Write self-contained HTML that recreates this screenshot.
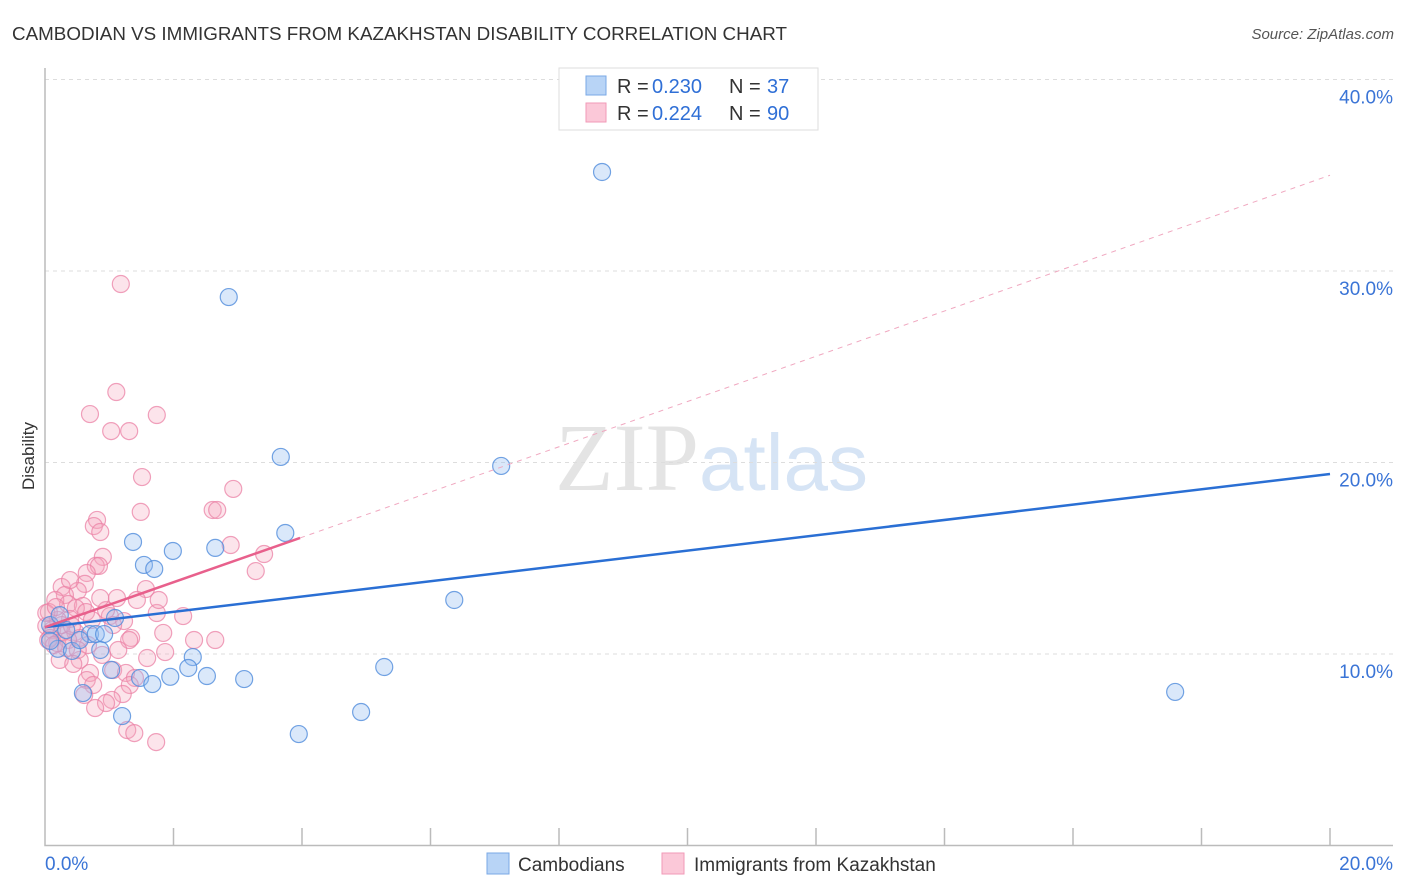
<!DOCTYPE html>
<html><head><meta charset="utf-8"><style>
body{margin:0;background:#fff;font-family:"Liberation Sans",sans-serif;}
svg{display:block}
</style></head><body>
<svg id="chart" width="1406" height="892" xmlns="http://www.w3.org/2000/svg">
<text x="12" y="40" font-size="18" fill="#333" textLength="775" lengthAdjust="spacingAndGlyphs">CAMBODIAN VS IMMIGRANTS FROM KAZAKHSTAN DISABILITY CORRELATION CHART</text>
<text x="1394" y="39" font-size="15" fill="#555" text-anchor="end" font-style="italic">Source: ZipAtlas.com</text>
<text x="555" y="490" font-size="96" font-family="Liberation Serif,serif" fill="#e4e4e4">ZIP<tspan fill="#d6e4f5" font-family="Liberation Sans,sans-serif" font-size="80">atlas</tspan></text>
<g id="grid"></g>
<g id="axes"></g>
<g id="marks"></g>
<text transform="translate(34,456) rotate(-90)" font-size="17" fill="#333" text-anchor="middle">Disability</text>
<g>
<rect x="559" y="68" width="259" height="62" fill="#fff" stroke="#ddd"/>
<rect x="586" y="76" width="20" height="19" fill="#b8d4f6" stroke="#7aa8e6"/>
<text x="617" y="93" font-size="20" fill="#333">R =</text>
<text x="652" y="93" font-size="20" fill="#2f6fd6">0.230</text>
<text x="729" y="93" font-size="20" fill="#333">N =</text>
<text x="767" y="93" font-size="20" fill="#2f6fd6">37</text>
<rect x="586" y="103" width="20" height="19" fill="#fbc8d8" stroke="#f19ab7"/>
<text x="617" y="120" font-size="20" fill="#333">R =</text>
<text x="652" y="120" font-size="20" fill="#2f6fd6">0.224</text>
<text x="729" y="120" font-size="20" fill="#333">N =</text>
<text x="767" y="120" font-size="20" fill="#2f6fd6">90</text>
</g>
<g>
<rect x="487" y="853" width="22" height="21" fill="#b8d4f6" stroke="#7aa8e6"/>
<text x="518" y="871" font-size="19" fill="#333">Cambodians</text>
<rect x="662" y="853" width="22" height="21" fill="#fbc8d8" stroke="#f19ab7"/>
<text x="694" y="871" font-size="19" fill="#333">Immigrants from Kazakhstan</text>
</g>
</svg>
<script>
const yTicks=[10,20,30,40];
const yTickLabels=["10.0%","20.0%","30.0%","40.0%"];
const blueX=[8.67,2.86,3.67,7.10,3.74,1.37,1.99,2.65,1.54,1.70,6.37,1.09,0.70,0.79,0.92,0.33,0.08,0.20,0.42,0.86,2.30,2.23,1.03,1.95,1.48,1.67,2.52,3.10,5.28,0.59,1.20,4.92,3.95,17.59,0.08,0.54,0.23];
const blueY=[35.17,28.64,20.29,19.82,16.32,15.85,15.38,15.54,14.65,14.44,12.82,11.88,11.04,11.04,11.04,11.25,11.51,10.27,10.16,10.21,9.84,9.27,9.17,8.81,8.75,8.43,8.85,8.69,9.32,7.96,6.76,6.97,5.82,8.02,10.68,10.73,12.03];
const pinkX=[1.18,1.11,0.70,1.74,1.03,1.31,1.51,2.93,1.49,2.61,2.68,0.81,0.76,0.86,2.89,0.90,3.41,0.79,0.84,3.28,0.65,0.26,0.62,1.57,0.51,0.31,1.12,0.16,0.36,0.59,0.48,0.64,1.74,2.15,1.01,1.23,0.39,0.20,0.06,0.02,0.11,0.26,0.47,0.54,0.08,0.19,0.36,1.84,1.34,1.31,2.32,2.65,0.67,0.89,1.87,1.59,0.54,1.06,0.70,0.65,1.26,1.40,1.32,0.75,0.61,1.21,1.04,0.95,0.78,1.28,1.39,1.73,0.02,0.17,0.26,0.42,0.05,0.14,0.33,0.51,0.95,1.06,0.73,0.23,0.86,1.43,0.39,1.14,0.44,1.77];
const pinkY=[29.32,23.68,22.53,22.48,21.64,21.64,19.24,18.62,17.42,17.52,17.52,17.00,16.68,16.37,15.69,15.07,15.22,14.60,14.60,14.33,14.23,13.50,13.66,13.39,13.29,13.08,12.92,12.82,12.61,12.51,12.40,12.19,12.14,11.98,11.98,11.72,11.83,11.78,12.19,11.46,11.25,11.10,11.15,10.84,10.84,10.57,10.73,11.10,10.84,10.73,10.73,10.73,10.47,9.95,10.10,9.79,9.69,9.16,9.01,8.64,9.01,8.75,8.38,8.38,7.86,7.91,7.60,7.44,7.18,6.03,5.87,5.40,12.14,12.45,11.51,11.46,10.73,10.47,10.31,10.21,12.29,11.51,11.78,9.69,12.92,12.82,13.86,10.21,9.48,12.82];
const blueTrend=[[0,11.4],[20,19.4]];
const pinkTrend=[[0,11.4],[3.97,16.06]];
const pinkDash=[[3.97,16.06],[20,35.0]];
const NS="http://www.w3.org/2000/svg";
const sx=v=>45+v*64.25, sy=v=>845.5-v*19.15;
function mk(tag,attrs,parent){const e=document.createElementNS(NS,tag);for(const k in attrs)e.setAttribute(k,attrs[k]);parent.appendChild(e);return e;}
const grid=document.getElementById('grid'),axes=document.getElementById('axes'),marks=document.getElementById('marks');
yTicks.forEach((t,i)=>{
 const l=mk('line',{x1:45,x2:1393,y1:sy(t),y2:sy(t),stroke:'#ddd','stroke-dasharray':'4,4'},grid);
 
 
 const tx=mk('text',{x:1393,y:sy(t)+24,'font-size':19,fill:'#3a74d6','text-anchor':'end'},axes);
 tx.textContent=yTickLabels[i];
 
 
});
const ax=mk('path',{d:'M45,68 V845.5 H1393',fill:'none',stroke:'#bbb','stroke-width':1.5},axes);


for(let i=1;i<=10;i++){
 const t=mk('line',{x1:sx(i*2),x2:sx(i*2),y1:828,y2:845,stroke:'#bbb','stroke-width':1.5},axes);
 
 
}
[["0.0%",45,'start'],["20.0%",1393,'end']].forEach(a=>{
 const t=mk('text',{x:a[1],y:870,'font-size':19,fill:'#3a74d6','text-anchor':a[2]},axes);
 t.textContent=a[0];
 
 
});
function dots(X,Y,fill,stroke,name){X.forEach((x,i)=>{
 const c=mk('circle',{cx:sx(x),cy:sy(Y[i]),r:8.5,fill:fill,stroke:stroke,'stroke-width':1.2},marks);
 
 
});}
dots(pinkX,pinkY,'rgba(245,165,190,0.3)','rgba(235,130,165,0.75)','kazakhstan-point');
dots(blueX,blueY,'rgba(150,190,240,0.35)','rgba(80,140,220,0.8)','cambodian-point');
function line(p,stroke,name,dash,w){
 const l=mk('line',{x1:sx(p[0][0]),y1:sy(p[0][1]),x2:sx(p[1][0]),y2:sy(p[1][1]),stroke:stroke,'stroke-width':w},marks);
 if(dash)l.setAttribute('stroke-dasharray',dash);
 
 
}
line(pinkDash,'#f0a8c0','kazakhstan-trend-extension','5,5',1);
line(blueTrend,'#2a6fd4','cambodian-trendline',null,2.5);
line(pinkTrend,'#e8608c','kazakhstan-trendline',null,2.5);
</script>
</body></html>
